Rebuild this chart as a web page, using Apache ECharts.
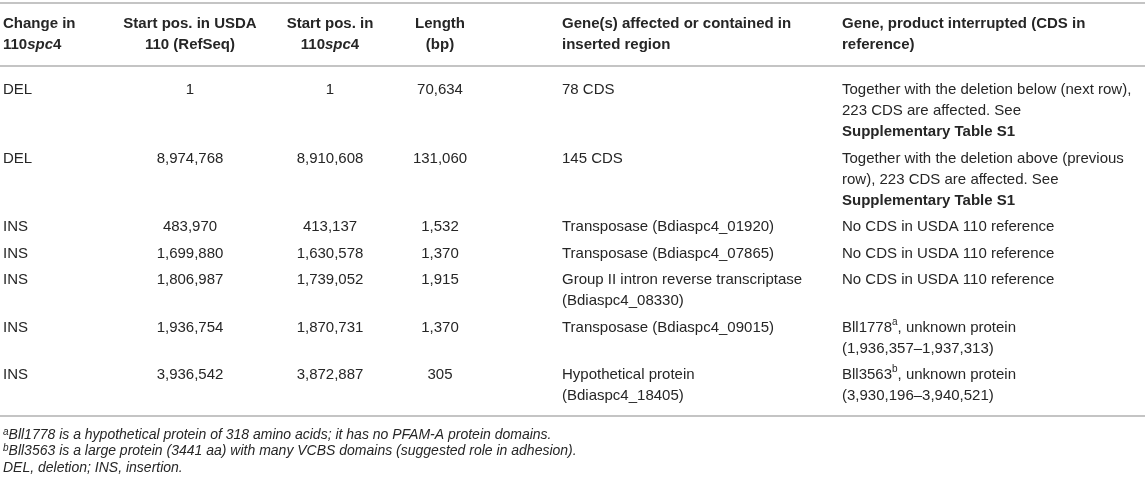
<!DOCTYPE html>
<html>
<head>
<meta charset="utf-8">
<script src="https://cdn.jsdelivr.net/npm/echarts@6.0.0/dist/echarts.min.js"></script>
<style>
html, body { margin: 0; padding: 0; background: #fff; }
#chart-container { width: 1145px; height: 493px; }
</style>
</head>
<body>
<div id="chart-container"></div>
<script>
// table content
const headers = [
  ['Change in', '110{bi|spc}4'],
  ['Start pos. in USDA', '110 (RefSeq)'],
  ['Start pos. in', '110{bi|spc}4'],
  ['Length', '(bp)'],
  ['Gene(s) affected or contained in', 'inserted region'],
  ['Gene, product interrupted (CDS in', 'reference)']
];
const changeType = ['DEL', 'DEL', 'INS', 'INS', 'INS', 'INS', 'INS'];
const startRef = [1, 8974768, 483970, 1699880, 1806987, 1936754, 3936542];
const startSpc4 = [1, 8910608, 413137, 1630578, 1739052, 1870731, 3872887];
const lengthBp = [70634, 131060, 1532, 1370, 1915, 1370, 305];
const genesAffected = [
  ['78 CDS'],
  ['145 CDS'],
  ['Transposase (Bdiaspc4_01920)'],
  ['Transposase (Bdiaspc4_07865)'],
  ['Group II intron reverse transcriptase', '(Bdiaspc4_08330)'],
  ['Transposase (Bdiaspc4_09015)'],
  ['Hypothetical protein', '(Bdiaspc4_18405)']
];
const productInterrupted = [
  ['Together with the deletion below (next row),', '223 CDS are affected. See', '{b|Supplementary Table S1}'],
  ['Together with the deletion above (previous', 'row), 223 CDS are affected. See', '{b|Supplementary Table S1}'],
  ['No CDS in USDA 110 reference'],
  ['No CDS in USDA 110 reference'],
  ['No CDS in USDA 110 reference'],
  ['Bll1778{sup|a}, unknown protein', '(1,936,357\u20131,937,313)'],
  ['Bll3563{sup|b}, unknown protein', '(3,930,196\u20133,940,521)']
];
const footnotes = [
  '{supi|a}{i|Bll1778 is a hypothetical protein of 318 amino acids; it has no PFAM-A protein domains.}',
  '{supi|b}{i|Bll3563 is a large protein (3441 aa) with many VCBS domains (suggested role in adhesion).}',
  '{i|DEL, deletion; INS, insertion.}'
];

// layout
const W = 1145, H = 493;
const FONT = "'Liberation Sans', Arial, sans-serif";
const TXT = '#262626';
const colX = [3, 190, 330, 440, 562, 842];
const colAlign = ['left', 'center', 'center', 'center', 'left', 'left'];
const ruleY = [3, 66, 416];
const headY = 24, headLine = 21;
const bodyY = 90, bodyLine = 21, rowPad = 5.5;
const noteY = 435, noteLine = 16.5;

function fmt(n) { return n.toLocaleString('en-US'); }

function rowCells(r) {
  return [[changeType[r]], [fmt(startRef[r])], [fmt(startSpc4[r])], [fmt(lengthBp[r])],
    genesAffected[r], productInterrupted[r]];
}

// y of first line of each row
var rowY = [];
var yy = bodyY;
for (var r = 0; r < changeType.length; r++) {
  rowY.push(yy);
  var n = Math.max.apply(null, rowCells(r).map(function (c) { return c.length; }));
  yy += n * bodyLine + rowPad;
}

function richStyles(size, lh) {
  return {
    b: { fontFamily: FONT, fontSize: size, fontWeight: 'bold', fill: TXT, lineHeight: lh },
    bi: { fontFamily: FONT, fontSize: size, fontWeight: 'bold', fontStyle: 'italic', fill: TXT, lineHeight: lh },
    i: { fontFamily: FONT, fontSize: size, fontStyle: 'italic', fill: TXT, lineHeight: lh },
    sup: { fontFamily: FONT, fontSize: 10, fill: TXT, lineHeight: 14, verticalAlign: 'top' },
    supi: { fontFamily: FONT, fontSize: 10, fontStyle: 'italic', fill: TXT, lineHeight: 12, verticalAlign: 'top' }
  };
}

function textEl(api, x, y, txt, align, size, weight, lh) {
  var p = api.coord([x, y]);
  return {
    type: 'text',
    x: p[0],
    y: p[1],
    style: {
      text: txt,
      align: align,
      verticalAlign: 'middle',
      fontFamily: FONT,
      fontSize: size,
      fontWeight: weight,
      lineHeight: lh,
      fill: TXT,
      rich: richStyles(size, lh)
    }
  };
}

var dom = document.getElementById('chart-container');
var myChart = echarts.init(dom, null, { renderer: 'canvas' });

var option = {
  animation: false,
  backgroundColor: '#fff',
  grid: { left: 0, right: 0, top: 0, bottom: 0 },
  xAxis: { type: 'value', min: 0, max: W, show: false },
  yAxis: { type: 'value', min: 0, max: H, inverse: true, show: false },
  series: [
    {
      // horizontal rules
      type: 'custom',
      data: ruleY.map(function (y, i) { return [i, y]; }),
      renderItem: function (params, api) {
        var y = api.value(1);
        var a = api.coord([0, y]), b = api.coord([W, y]);
        return {
          type: 'line',
          shape: { x1: a[0], y1: a[1], x2: b[0], y2: b[1] },
          style: { stroke: '#c4c4c4', lineWidth: 2 }
        };
      }
    },
    {
      // header
      type: 'custom',
      data: headers.map(function (h, i) { return [i, 0]; }),
      renderItem: function (params, api) {
        var c = api.value(0);
        return {
          type: 'group',
          children: headers[c].map(function (line, k) {
            return textEl(api, colX[c], headY + k * headLine, line, colAlign[c], 15, 'bold', headLine);
          })
        };
      }
    },
    {
      // body rows
      type: 'custom',
      data: changeType.map(function (t, i) { return [i, 0]; }),
      renderItem: function (params, api) {
        var r = api.value(0);
        var children = [];
        rowCells(r).forEach(function (lines, c) {
          lines.forEach(function (line, k) {
            children.push(textEl(api, colX[c], rowY[r] + k * bodyLine, line, colAlign[c], 15, 'normal', bodyLine));
          });
        });
        return { type: 'group', children: children };
      }
    },
    {
      // footnotes
      type: 'custom',
      data: footnotes.map(function (f, i) { return [i, 0]; }),
      renderItem: function (params, api) {
        var k = api.value(0);
        return textEl(api, colX[0], noteY + k * noteLine, footnotes[k], 'left', 14, 'normal', noteLine);
      }
    }
  ]
};

myChart.setOption(option);
window.addEventListener('resize', function () { myChart.resize(); });
</script>
</body>
</html>
